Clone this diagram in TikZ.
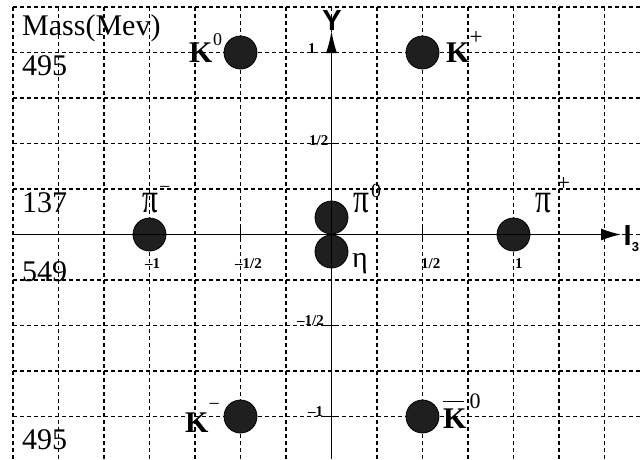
\documentclass[tikz,border=0pt]{standalone}
\usepackage{fontspec}
\setmainfont{Liberation Serif}
\newfontfamily\hvfont{Liberation Sans}
\usetikzlibrary{arrows.meta}
\newcommand\raisedtxt[3]{\raisebox{#1}{\fontsize{#2}{#2}\selectfont #3}}
\newcommand\bigpi{\scalebox{1.05}[1.4]{π}}
\begin{document}
\begin{tikzpicture}[x=1pt,y=-1pt,
  gridline/.style={line width=1.1pt,dash pattern=on 4pt off 3pt},
  axisline/.style={line width=1.4pt},
  axistick/.style={line width=1.2pt},
  meson/.style={circle,draw=black,line width=0.8pt,fill=black!88,minimum size=33pt,inner sep=0pt},
  lab/.style={inner sep=0pt,anchor=base west,font=\fontsize{30}{31}\selectfont},
  ticklab/.style={inner sep=0pt,anchor=base west,font=\bfseries\fontsize{15}{16}\selectfont},
  axlab/.style={inner sep=0pt,font=\hvfont\bfseries\fontsize{29}{30}\selectfont}]
\useasboundingbox (0,0) rectangle (640,459);
% grid
\foreach \i in {0,...,13} \draw[gridline] ({13+45.5*\i},7) -- ({13+45.5*\i},459);
\foreach \j in {0,...,9} \draw[gridline] (13,{7+45.5*\j}) -- (640,{7+45.5*\j});
% mesons
\node[meson] (K0) at (240.5,52.5) {};
\node[meson] (Kp) at (422.5,52.5) {};
\node[meson] (pim) at (149.5,234.5) {};
\node[meson] (pip) at (513.5,234.5) {};
\node[meson] (piz) at (331.5,217.5) {};
\node[meson] (eta) at (331.5,251.5) {};
\node[meson] (Km) at (240.5,416.5) {};
\node[meson] (Kb) at (422.5,416.5) {};
% axes
\coordinate (xstart) at (13,234.5);
\coordinate (xend) at (621,234.5);
\coordinate (ystart) at (331.5,459);
\coordinate (yend) at (331.5,31);
\draw[axisline,-{Latex[length=20pt,width=12pt]}] (xstart) -- (xend);
\draw[axisline,-{Latex[length=22pt,width=11pt]}] (ystart) -- (yend);
% ticks
\foreach \tx in {240.5,422.5} \draw[axistick] (\tx,227) -- (\tx,242);
\foreach \ty in {52.5,143.5,325.5,416.5} \draw[axistick] (323,\ty) -- (338,\ty);
% axis labels
\node[axlab,anchor=base] (Ylab) at (332,30) {Y};
\node[axlab,anchor=base west] (Ilab) at (623.5,245) {I\raisebox{-6pt}{\fontsize{13}{13}\selectfont 3}};
% tick labels
\node[ticklab] (tm1) at (145,268) {–1};
\node[ticklab] (tmh) at (235,268) {–1/2};
\node[ticklab] (tph) at (421,268) {1/2};
\node[ticklab] (tp1) at (515,268) {1};
\node[ticklab] (yp1) at (308,53) {1};
\node[ticklab] (yph) at (309,145) {1/2};
\node[ticklab] (ymh) at (297,325) {–1/2};
\node[ticklab] (ym1) at (308,416) {–1};
% mass labels
\node[lab] (mass) at (22,35) {Mass(Mev)};
\node[lab] (m1) at (22,75) {495};
\node[lab] (m2) at (22,212) {137};
\node[lab] (m3) at (22,281) {549};
\node[lab] (m4) at (22,449) {495};
% particle labels
\node[lab] (K0l) at (189,62) {\textbf{K}\hspace{0.5pt}\raisedtxt{17pt}{18}{0}};
\node[lab] (Kpl) at (446,62) {\textbf{K}\raisedtxt{18pt}{23}{+}};
\node[lab] (piml) at (142,212) {\bigpi\hspace{1pt}\raisedtxt{19pt}{20}{−}};
\node[lab] (pizl) at (353,212) {\bigpi\hspace{2pt}\raisedtxt{15pt}{20}{0}};
\node[lab] (pipl) at (535,212) {\bigpi\hspace{6pt}\raisedtxt{22pt}{23}{+}};
\node[lab] (etal) at (352,267) {η};
\node[lab] (Kml) at (185,432) {\textbf{K}\raisedtxt{22pt}{20}{−}};
\node[lab] (Kbl) at (443,428) {\rlap{\raisebox{26pt}{\rule{21pt}{1.4pt}}}\textbf{K}\hspace{3pt}\raisedtxt{20pt}{22}{0}};
\end{tikzpicture}
\end{document}
